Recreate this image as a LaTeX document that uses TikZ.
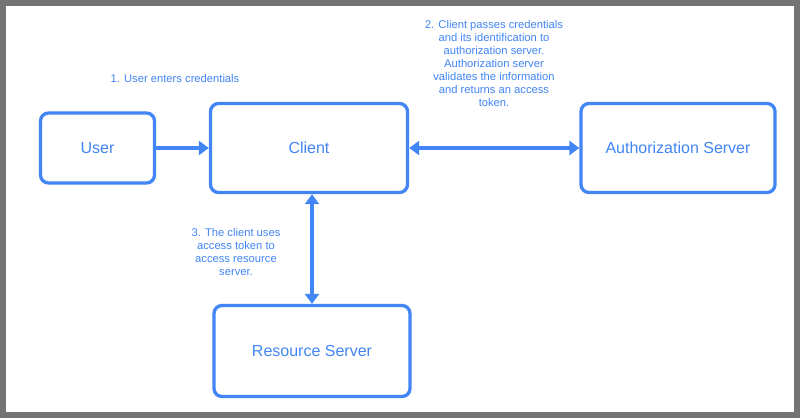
\documentclass[tikz,border=0pt]{standalone}
\usepackage{fontspec}
\setmainfont{Liberation Sans}
\usetikzlibrary{arrows.meta}
\definecolor{bl}{HTML}{4285F4}
\begin{document}
\begin{tikzpicture}[x=1pt,y=-1pt,
  box/.style={draw=bl,line width=3.3pt,rounded corners=8pt,text=bl,font=\fontsize{16}{19}\selectfont},
  lab/.style={text=bl,font=\fontsize{11.2}{13}\selectfont,align=center},
  arr/.style={draw=bl,line width=3.3pt,-{Triangle[length=10pt,width=14pt]}},
  darr/.style={draw=bl,line width=3.3pt,{Triangle[length=10pt,width=14pt]}-{Triangle[length=10pt,width=14pt]}}]
\fill[gray!90!black] (0,0) rectangle (800,418);
\fill[white] (6,6) rectangle (794,412);
\useasboundingbox (0,0) rectangle (800,418);
\node[box,minimum width=114pt,minimum height=70pt] (user) at (97.5,148) {User};
\node[box,minimum width=197pt,minimum height=89pt] (client) at (309,148) {Client};
\node[box,minimum width=194pt,minimum height=89pt] (auth) at (678,148) {Authorization Server};
\node[box,minimum width=196pt,minimum height=91pt] (res) at (312,351) {Resource Server};
\draw[arr] (user.east) -- (client.west);
\draw[darr] (client.south -| res.north) -- (res.north);
\draw[darr] (client.east) -- (auth.west);
\node[lab] (l1) at (175,78) {1. User enters credentials};
\node[lab] (l2) at (494,63) {2. Client passes credentials\\and its identification to\\authorization server.\\Authorization server\\validates the information\\and returns an access\\token.};
\node[lab] (l3) at (236,252) {3. The client uses\\access token to\\access resource\\server.};
\end{tikzpicture}
\end{document}
